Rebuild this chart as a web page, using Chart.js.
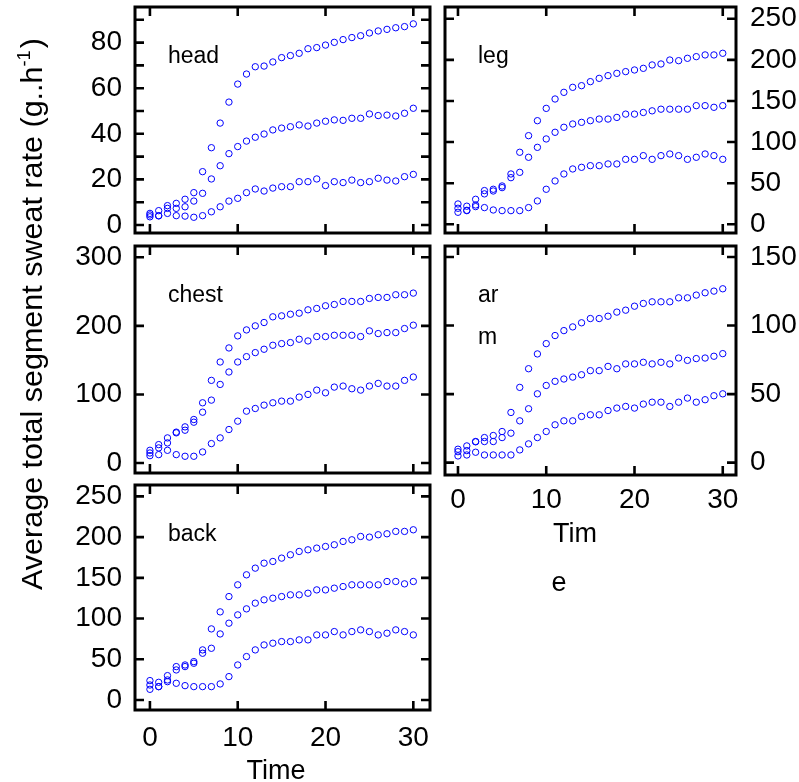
<!DOCTYPE html>
<html>
<head>
<meta charset="utf-8">
<script src="https://cdn.jsdelivr.net/npm/chart.js@4.4.1/dist/chart.umd.min.js"></script>
<style>
  body { margin: 0; background: #fff; }
  #wrap { position: relative; width: 799px; height: 782px; }
  #wrap canvas { position: absolute; left: 0; top: 0; }
</style>
</head>
<body>
<div id="wrap">
  <canvas id="head" width="799" height="782"></canvas>
  <canvas id="leg" width="799" height="782"></canvas>
  <canvas id="chest" width="799" height="782"></canvas>
  <canvas id="arm" width="799" height="782"></canvas>
  <canvas id="back" width="799" height="782"></canvas>
</div>
<script>
// time (x) and the three curves of every body segment
const time = [0, 1, 2, 3, 4, 5, 6, 7, 8, 9, 10, 11, 12, 13, 14, 15, 16, 17, 18, 19, 20, 21, 22, 23, 24, 25, 26, 27, 28, 29, 30];

const headHigh = [5.1, 6.3, 8.5, 9.5, 11.3, 14.2, 23.4, 33.9, 44.7, 53.9, 61.8, 66.2, 69.4, 69.7, 71.5, 73.4, 74.3, 75.3, 77.3, 77.8, 78.9, 80.1, 81.3, 82.2, 83.0, 84.2, 85.1, 85.8, 86.5, 87.0, 88.2];
const headMid = [4.4, 4.1, 7.3, 7.3, 8.0, 10.5, 13.9, 20.2, 26.0, 31.3, 34.4, 36.8, 38.5, 39.9, 41.7, 42.5, 43.1, 43.9, 43.4, 44.7, 45.5, 46.1, 45.9, 46.8, 46.8, 48.7, 48.0, 48.2, 47.8, 49.0, 51.2];
const headLow = [3.6, 4.0, 5.1, 4.1, 3.9, 3.4, 4.1, 5.8, 8.0, 10.5, 11.7, 14.2, 15.8, 14.9, 16.2, 16.8, 16.8, 19.0, 19.0, 20.2, 17.3, 19.0, 18.6, 19.7, 18.6, 19.0, 20.5, 19.7, 19.3, 21.2, 22.2];

const legHigh = [24.7, 22.0, 30.4, 41.0, 42.6, 46.6, 61.2, 87.6, 107.8, 126.0, 141.0, 152.4, 160.5, 166.6, 168.6, 173.5, 177.5, 180.8, 183.6, 185.7, 187.7, 189.7, 193.8, 195.0, 199.8, 199.0, 201.9, 203.9, 206.0, 206.0, 208.0];
const legMid = [19.5, 17.0, 23.5, 37.0, 40.5, 44.6, 56.7, 63.2, 81.5, 93.6, 103.8, 111.9, 118.0, 122.0, 124.0, 126.0, 128.0, 128.0, 130.0, 134.0, 134.0, 136.0, 138.0, 140.0, 140.0, 140.0, 140.0, 144.3, 144.3, 142.3, 144.3];
const legLow = [14.6, 16.6, 21.5, 20.3, 17.4, 16.6, 16.6, 16.6, 20.3, 28.4, 42.6, 52.7, 61.2, 67.3, 69.3, 71.3, 71.3, 73.4, 73.4, 79.0, 79.0, 83.5, 79.0, 83.5, 85.5, 83.5, 79.0, 81.5, 85.5, 83.5, 79.0];

const chestHigh = [18.5, 26.8, 36.6, 45.0, 52.7, 63.4, 87.8, 120.5, 147.3, 167.8, 185.4, 194.1, 200.0, 204.9, 213.2, 214.6, 217.0, 218.5, 223.4, 225.4, 229.3, 231.2, 235.6, 235.6, 235.6, 240.0, 241.5, 241.5, 245.4, 245.4, 247.8];
const chestMid = [14.6, 22.0, 29.3, 44.0, 47.8, 59.5, 74.1, 91.7, 114.6, 132.7, 147.3, 155.1, 161.0, 165.9, 171.7, 174.1, 175.6, 180.5, 178.0, 184.4, 184.4, 186.3, 186.3, 186.3, 184.4, 192.7, 188.8, 190.2, 190.2, 196.1, 201.0];
const chestLow = [10.7, 12.2, 18.5, 12.2, 9.8, 9.8, 16.1, 28.3, 36.6, 48.8, 61.0, 75.6, 79.5, 84.4, 87.8, 90.2, 90.2, 96.1, 100.0, 106.3, 102.4, 110.7, 112.2, 108.3, 106.3, 112.2, 116.1, 112.2, 112.2, 120.5, 125.4];

const armHigh = [9.8, 12.2, 15.4, 18.3, 19.8, 22.7, 36.6, 54.9, 68.5, 79.3, 86.8, 92.7, 96.3, 99.0, 102.0, 105.1, 105.1, 106.8, 109.8, 111.2, 114.1, 116.1, 117.3, 117.3, 117.3, 120.2, 120.2, 122.2, 123.9, 125.1, 126.8];
const armMid = [8.0, 8.8, 15.2, 15.4, 15.4, 18.3, 21.5, 30.5, 39.3, 50.2, 56.3, 59.3, 61.0, 62.4, 64.1, 67.1, 67.1, 70.2, 68.5, 72.0, 72.0, 73.2, 72.0, 73.2, 72.0, 76.3, 74.6, 75.9, 76.3, 77.6, 79.5];
const armLow = [4.9, 5.6, 7.6, 5.6, 5.6, 5.6, 5.6, 9.3, 13.7, 18.3, 22.7, 27.6, 30.5, 30.5, 33.7, 34.9, 34.9, 38.0, 39.8, 41.0, 39.8, 42.7, 44.1, 44.1, 41.0, 44.1, 47.1, 44.1, 45.9, 48.8, 50.2];

const backHigh = [23.8, 21.7, 29.9, 41.0, 43.0, 47.1, 61.5, 87.3, 108.2, 127.0, 141.4, 153.7, 161.9, 168.0, 170.1, 174.2, 178.3, 182.4, 184.4, 186.5, 188.5, 190.6, 194.7, 196.7, 200.8, 200.0, 202.9, 204.1, 207.0, 207.0, 209.0];
const backMid = [18.4, 16.4, 24.6, 36.9, 41.0, 45.1, 57.4, 63.5, 81.1, 94.3, 104.5, 111.9, 118.9, 123.0, 125.0, 127.0, 129.1, 129.1, 131.1, 135.2, 135.2, 137.3, 139.3, 141.4, 141.4, 141.4, 141.4, 145.5, 145.5, 142.6, 145.5];
const backLow = [13.1, 16.4, 22.5, 20.5, 17.6, 16.4, 16.4, 16.4, 19.7, 28.7, 43.0, 53.3, 61.5, 67.6, 69.7, 71.7, 71.7, 73.8, 73.8, 79.9, 79.9, 84.0, 79.9, 84.0, 86.1, 84.0, 79.9, 82.0, 86.1, 84.0, 79.9];

const xTickLabels = [0, 10, 20, 30];
const yTitle = "Average total segment sweat rate (g..h";
const yTitleSup = "-1";

const FONT = "'Liberation Sans', Arial, sans-serif";
const W = 799, H = 782;

// frame with inward ticks on all four sides, panel name and x title
const framePlugin = {
  id: "frame",
  afterDraw(chart, args, opts) {
    const { ctx, chartArea: a, scales } = chart;
    const len = 9;
    ctx.save();
    ctx.strokeStyle = "#000";
    ctx.lineWidth = 2.6;
    ctx.beginPath();
    scales.x.ticks.forEach((t) => {
      const px = scales.x.getPixelForValue(t.value);
      ctx.moveTo(px, a.bottom); ctx.lineTo(px, a.bottom - len);
      ctx.moveTo(px, a.top); ctx.lineTo(px, a.top + len);
    });
    scales.y.ticks.forEach((t) => {
      const py = scales.y.getPixelForValue(t.value);
      ctx.moveTo(a.left, py); ctx.lineTo(a.left + len, py);
      ctx.moveTo(a.right, py); ctx.lineTo(a.right - len, py);
    });
    ctx.stroke();
    ctx.lineWidth = 3;
    ctx.strokeRect(a.left, a.top, a.right - a.left, a.bottom - a.top);

    ctx.fillStyle = "#000";
    ctx.textBaseline = "alphabetic";
    ctx.textAlign = "left";
    ctx.font = "23px " + FONT;
    (opts.label || []).forEach((line, i) => {
      ctx.fillText(line, a.left + 33, a.top + 56 + i * 42);
    });

    ctx.font = "27px " + FONT;
    ctx.textAlign = "center";
    (opts.xTitle || []).forEach((t) => {
      ctx.fillText(t.text, a.left + t.dx, a.bottom + t.dy);
    });
    ctx.restore();
  },
};

// the shared y title, drawn once on the left of the figure
const sideTitle = {
  id: "sideTitle",
  afterDraw(chart, args, opts) {
    if (!opts.show) return;
    const ctx = chart.ctx;
    ctx.save();
    ctx.fillStyle = "#000";
    ctx.font = "30px " + FONT;
    const w1 = ctx.measureText(yTitle).width;
    ctx.font = "18px " + FONT;
    const w2 = ctx.measureText(yTitleSup).width;
    ctx.font = "30px " + FONT;
    const w3 = ctx.measureText(")").width;
    const total = w1 + w2 + w3 + 2;
    const target = 552;
    ctx.translate(42, 314);
    ctx.rotate(-Math.PI / 2);
    ctx.scale(target / total, 1);
    ctx.textBaseline = "alphabetic";
    ctx.textAlign = "left";
    let x = -total / 2;
    ctx.fillText(yTitle, x, 0);
    x += w1;
    ctx.font = "18px " + FONT;
    ctx.fillText(yTitleSup, x, -12);
    x += w2 + 2;
    ctx.font = "30px " + FONT;
    ctx.fillText(")", x, 0);
    ctx.restore();
  },
};

function makePanel(id, p) {
  const seriesList = [p.high, p.mid, p.low];
  const datasets = seriesList.map((vals) => ({
    data: time.map((t, i) => ({ x: t, y: vals[i] })),
    showLine: false,
    pointStyle: "circle",
    pointRadius: 3.2,
    pointBorderWidth: 1,
    pointBorderColor: "#0000ff",
    pointBackgroundColor: "rgba(0,0,0,0)",
  }));
  const yWidth = p.side === "left" ? p.area.l - p.padL : W - p.area.r;
  const xHeight = p.xLabels ? 60 : 0;
  const padding = {
    left: p.side === "left" ? p.padL : p.area.l,
    right: p.side === "left" ? W - p.area.r : 0,
    top: p.area.t,
    bottom: H - p.area.b - xHeight,
  };
  return new Chart(document.getElementById(id), {
    type: "scatter",
    data: { datasets },
    options: {
      responsive: false,
      animation: false,
      events: [],
      layout: { padding },
      plugins: {
        legend: { display: false },
        tooltip: { enabled: false },
        frame: { label: p.label, xTitle: p.xTitle },
        sideTitle: { show: !!p.sideTitle },
      },
      scales: {
        x: {
          type: "linear",
          min: p.xMin,
          max: p.xMax,
          grid: { display: false, drawTicks: false },
          border: { display: false },
          // fixed size, no label overhang, so the plot box lands where it should
          afterFit: (s) => {
            s.height = xHeight;
            s.paddingLeft = 0;
            s.paddingRight = 0;
          },
          ticks: {
            display: p.xLabels,
            stepSize: 10,
            includeBounds: false,
            autoSkip: false,
            maxRotation: 0,
            padding: p.xPad || 8,
            color: "#000",
            font: { family: FONT, size: 28 },
            callback: (v) => (xTickLabels.includes(v) ? v : ""),
          },
        },
        y: {
          type: "linear",
          position: p.side,
          min: p.yMin,
          max: p.yMax,
          grid: { display: false, drawTicks: false },
          border: { display: false },
          afterFit: (s) => {
            s.width = yWidth;
            s.paddingTop = 0;
            s.paddingBottom = 0;
          },
          ticks: {
            stepSize: p.yStep,
            maxTicksLimit: 50,
            includeBounds: false,
            autoSkip: false,
            padding: p.side === "left" ? 13 : 14,
            color: "#000",
            font: { family: FONT, size: 28 },
            callback: (v) => (v % p.yLabelEvery === 0 ? v : ""),
          },
        },
      },
    },
    plugins: [framePlugin, sideTitle],
  });
}

makePanel("head", {
  high: headHigh, mid: headMid, low: headLow, label: ["head"],
  side: "left", padL: 40, area: { l: 135, t: 7, r: 430, b: 233 },
  xMin: -1.7, xMax: 31.9, xLabels: false,
  yMin: -3.5, yMax: 95.6, yStep: 10, yLabelEvery: 20,
  sideTitle: true,
});
makePanel("leg", {
  high: legHigh, mid: legMid, low: legLow, label: ["leg"],
  side: "right", area: { l: 445, t: 7, r: 736, b: 233 },
  xMin: -1.47, xMax: 31.5, xLabels: false,
  yMin: -10.6, yMax: 264.3, yStep: 50, yLabelEvery: 50,
});
makePanel("chest", {
  high: chestHigh, mid: chestMid, low: chestLow, label: ["chest"],
  side: "left", padL: 40, area: { l: 135, t: 246, r: 430, b: 473 },
  xMin: -1.7, xMax: 31.9, xLabels: false,
  yMin: -14.6, yMax: 316.5, yStep: 100, yLabelEvery: 100,
});
makePanel("arm", {
  high: armHigh, mid: armMid, low: armLow, label: ["ar", "m"],
  side: "right", area: { l: 445, t: 246, r: 736, b: 475 },
  xMin: -1.47, xMax: 31.5, xLabels: true, xPad: 8,
  xTitle: [{ text: "Tim", dx: 130, dy: 67 }, { text: "e", dx: 114, dy: 116 }],
  yMin: -9, yMax: 158, yStep: 50, yLabelEvery: 50,
});
makePanel("back", {
  high: backHigh, mid: backMid, low: backLow, label: ["back"],
  side: "left", padL: 40, area: { l: 135, t: 485, r: 430, b: 710 },
  xMin: -1.7, xMax: 31.9, xLabels: true, xPad: 11,
  xTitle: [{ text: "Time", dx: 141, dy: 69 }],
  yMin: -12.3, yMax: 264, yStep: 50, yLabelEvery: 50,
});
</script>
</body>
</html>
